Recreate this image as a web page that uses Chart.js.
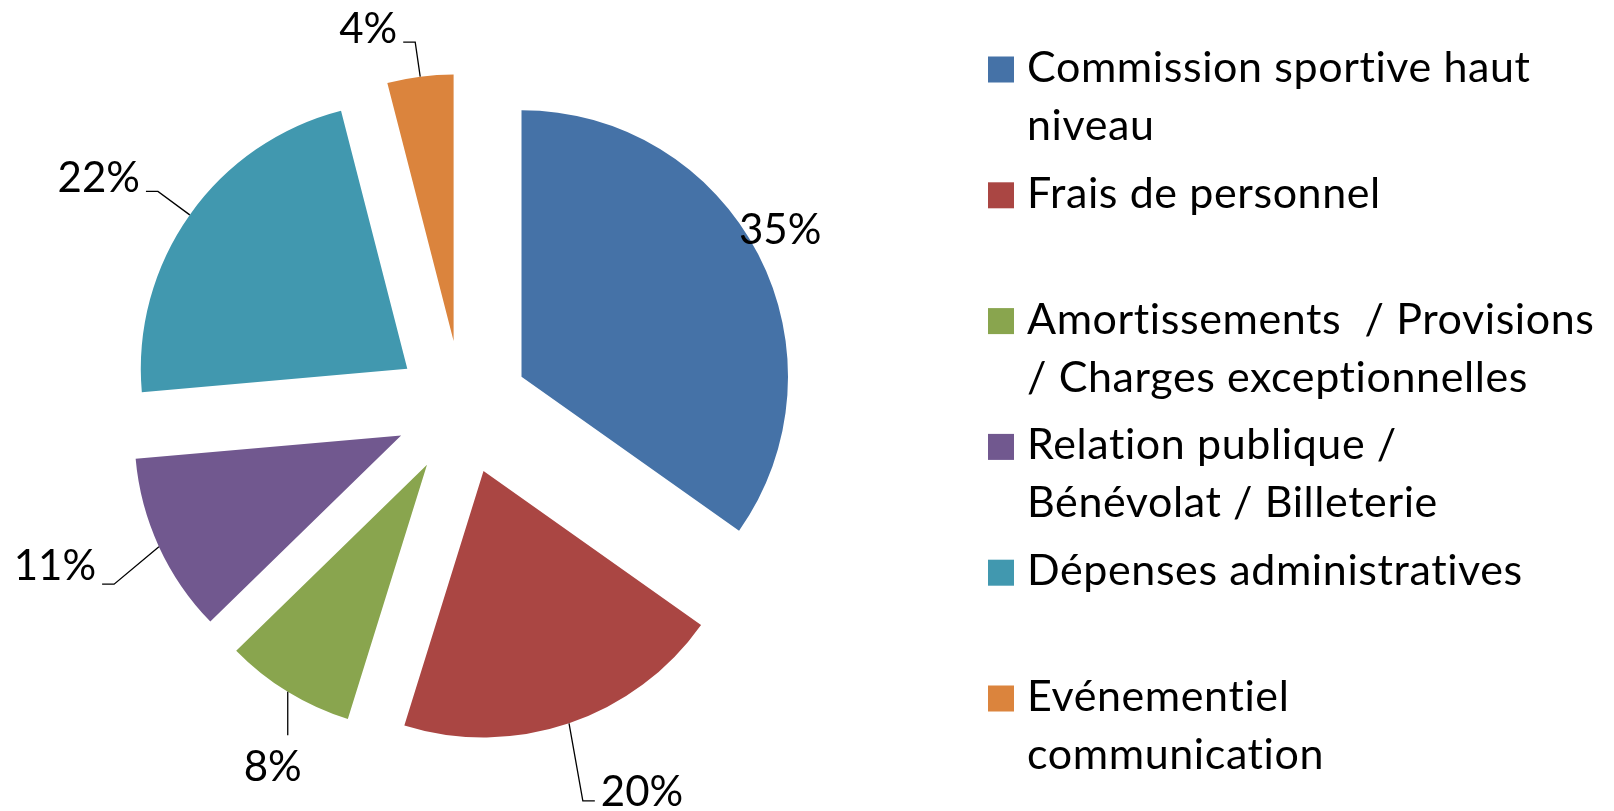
<!DOCTYPE html>
<html>
<head>
<meta charset="utf-8">
<title>Répartition des charges</title>
<script src="https://cdn.jsdelivr.net/npm/chart.js@4.4.1/dist/chart.umd.min.js"></script>
<style>
  html, body { margin: 0; padding: 0; background: #fff; }
  #wrap { width: 1614px; height: 811px; }
</style>
</head>
<body>
<div id="wrap"><canvas id="pie" width="1614" height="811"></canvas></div>
<script>
// categories (one array per legend entry, one string per line)
var categories = [
  ['Commission sportive haut', 'niveau'],
  ['Frais de personnel'],
  ['Amortissements  / Provisions', '/ Charges exceptionnelles'],
  ['Relation publique /', 'Bénévolat / Billeterie'],
  ['Dépenses administratives'],
  ['Evénementiel', 'communication']
];
// shares (labels show them rounded)
var shares = [34.8, 20.0, 7.9, 10.9, 22.4, 4.0];
var colors = ['#4572A7', '#AA4643', '#89A54E', '#71588F', '#4198AF', '#DB843D'];

// pulls every slice out along its bisector (plain translation, like Excel)
var explodePlugin = {
  id: 'explode',
  afterDatasetsUpdate: function(chart, args, opts) {
    chart.getDatasetMeta(0).data.forEach(function(arc) {
      var mid = (arc.startAngle + arc.endAngle) / 2;
      arc.x += Math.cos(mid) * opts.distance;
      arc.y += Math.sin(mid) * opts.distance;
    });
  }
};

// percentage labels with leader lines
var labelPlugin = {
  id: 'sliceLabels',
  afterDatasetsDraw: function(chart, args, opts) {
    var ctx = chart.ctx;
    var values = chart.data.datasets[0].data;
    var total = values.reduce(function(a, b) { return a + b; }, 0);
    ctx.save();
    ctx.font = opts.font;
    ctx.fillStyle = '#000';
    ctx.strokeStyle = '#000';
    ctx.lineWidth = 1.3;
    ctx.textAlign = 'center';
    ctx.textBaseline = 'alphabetic';
    chart.getDatasetMeta(0).data.forEach(function(arc, i) {
      var mid = (arc.startAngle + arc.endAngle) / 2;
      var px = arc.x + Math.cos(mid) * arc.outerRadius;
      var py = arc.y + Math.sin(mid) * arc.outerRadius;
      var text = Math.round(values[i] / total * 100) + '%';
      var m = ctx.measureText(text);
      var h = m.actualBoundingBoxAscent;
      var cx = px + opts.offsets[i][0];
      var cy = py + opts.offsets[i][1];
      var box = { left: cx - m.width / 2, right: cx + m.width / 2, top: cy - h / 2, bottom: cy + h / 2 };
      ctx.fillText(text, cx, box.bottom);

      var gx = Math.max(box.left - px, 0, px - box.right);
      var gy = Math.max(box.top - py, 0, py - box.bottom);
      if (Math.sqrt(gx * gx + gy * gy) < 20) return;
      ctx.beginPath();
      ctx.moveTo(px, py);
      if (px >= box.left && px <= box.right) {
        ctx.lineTo(px, py < box.top ? box.top - 15 : box.bottom + 15);
      } else if (cx < px) {
        var yl = py < box.top ? box.bottom + 4 : box.bottom - 1;
        ctx.lineTo(box.right + 18, yl);
        ctx.lineTo(box.right + 6, yl);
      } else {
        ctx.lineTo(box.left - 18, box.bottom - 5);
        ctx.lineTo(box.left - 6, box.bottom - 5);
      }
      ctx.stroke();
    });
    ctx.restore();
  }
};

// legend on the right, two text lines per entry
var legendPlugin = {
  id: 'sideLegend',
  afterDraw: function(chart, args, o) {
    var ctx = chart.ctx;
    var bg = chart.data.datasets[0].backgroundColor;
    ctx.save();
    ctx.font = o.font;
    ctx.letterSpacing = o.letterSpacing; // also stops Lato's "ti" ligature
    ctx.textAlign = 'left';
    ctx.textBaseline = 'alphabetic';
    chart.data.labels.forEach(function(lines, i) {
      var base = o.top + i * o.slot;
      ctx.fillStyle = bg[i];
      ctx.fillRect(o.left, base - o.box + 0.5, o.box, o.box);
      ctx.fillStyle = '#000';
      [].concat(lines).forEach(function(line, k) {
        ctx.fillText(line, o.left + o.textGap, base + k * o.lineHeight);
      });
    });
    ctx.restore();
  }
};

new Chart(document.getElementById('pie'), {
  type: 'pie',
  data: {
    labels: categories,
    datasets: [{
      data: shares,
      backgroundColor: colors,
      borderWidth: 0
    }]
  },
  options: {
    responsive: false,
    animation: false,
    events: [],
    radius: 266.5,
    layout: { padding: { left: 0, right: 690, top: 4, bottom: 0 } },
    plugins: {
      legend: { display: false },
      tooltip: { enabled: false },
      explode: { distance: 67 },
      sliceLabels: {
        font: '42px Lato',
        offsets: [[22, -26], [73, 67], [-15, 74], [-104, 18], [-91, -38], [-52, -49]]
      },
      sideLegend: {
        font: '43px Lato',
        letterSpacing: '0.6px',
        left: 988,
        top: 82,
        slot: 125.8,
        lineHeight: 58,
        box: 26,
        textGap: 39
      }
    }
  },
  plugins: [explodePlugin, labelPlugin, legendPlugin]
});
</script>
</body>
</html>
